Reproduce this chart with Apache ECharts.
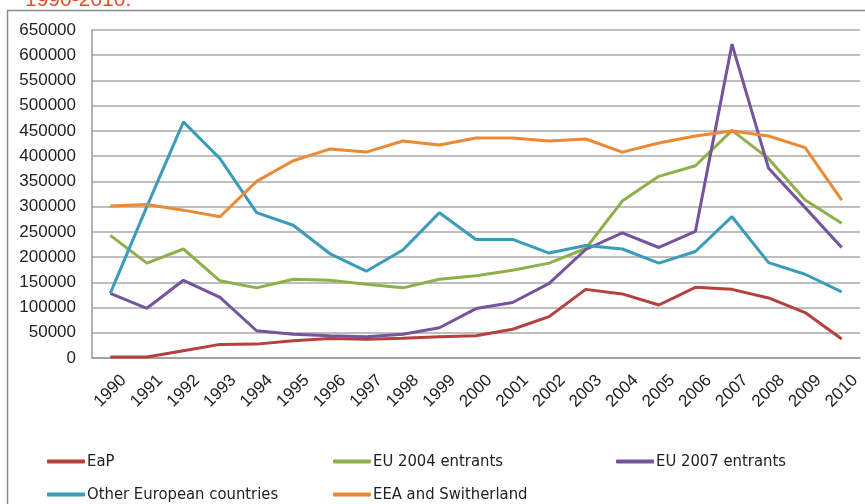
<!DOCTYPE html>
<html>
<head>
<meta charset="utf-8">
<script src="https://cdn.jsdelivr.net/npm/echarts@6/dist/echarts.min.js"></script>
<style>
html,body{margin:0;padding:0;background:#fff;}
#c{width:865px;height:504px;}
</style>
</head>
<body>
<div id="c"></div>
<script>
const years = ['1990','1991','1992','1993','1994','1995','1996','1997','1998','1999','2000','2001','2002','2003','2004','2005','2006','2007','2008','2009','2010'];
const eap = [2000,2000,14500,27000,27500,34000,38500,37000,39000,42000,44000,57000,82000,136000,127000,105000,140000,136000,119000,90000,37500];
const eu2004 = [243000,188000,216000,153000,139000,156000,154000,146000,139000,156000,163000,174000,188000,217000,311000,360000,381000,451000,395000,313000,267000];
const eu2007 = [128000,98500,154000,120000,54000,47000,44000,42000,47000,60000,98000,110000,148000,215000,248000,219000,251000,622000,376000,298000,219000];
const otherEU = [128000,300000,468000,395000,288000,263000,207000,172000,214000,288000,235000,235000,208000,223000,216000,188000,211000,280000,189000,166000,131000];
const eea = [301000,304000,293000,280000,350000,391000,414000,408000,430000,422000,436000,436000,430000,434000,408000,426000,440000,450000,440000,417000,313000];
const yTicks = [0,50000,100000,150000,200000,250000,300000,350000,400000,450000,500000,550000,600000,650000];
const titleText = '1990-2010.';

const names = ['EaP','EU 2004 entrants','EU 2007 entrants','Other European countries','EEA and Switherland'];
const colors = ['#b5403d','#8db04a','#76549b','#3a9cb8','#ea8a35'];
const datas = [eap, eu2004, eu2007, otherEU, eea];

const chart = echarts.init(document.getElementById('c'));
const font = "'Liberation Sans', Arial, sans-serif";
const narrow = "'Liberation Sans Narrow', 'DejaVu Sans Condensed', 'Liberation Sans', sans-serif";

const legendPos = [
  {left: 42, top: 448},
  {left: 328, top: 448},
  {left: 611, top: 448},
  {left: 42, top: 481},
  {left: 328, top: 481}
];

chart.setOption({
  animation: false,
  backgroundColor: '#fff',
  graphic: [
    {type:'rect', shape:{x:7.5,y:10.5,width:900,height:600}, style:{fill:'none', stroke:'#8a8a8a', lineWidth:1.5}, z:-1},
    {type:'text', left:25, top:-10, style:{text:titleText, fill:'#e0502a', font:"21px 'Liberation Sans', Arial, sans-serif"}}
  ],
  legend: names.map((n,i)=>({
    data:[n], left: legendPos[i].left, top: legendPos[i].top,
    itemWidth: 38, itemHeight: 4, itemGap: 2,
    icon: 'roundRect',
    textStyle:{fontFamily: narrow, fontSize:16.5, color:'#222', padding:[0,0,0,-3]}
  })),
  grid: {left: 92, right: 5, top: 30, bottom: 146, containLabel:false},
  xAxis: {
    type:'category', data: years, boundaryGap:true,
    axisLine:{lineStyle:{color:'#9a9a9a', width:1.5}},
    axisTick:{show:false},
    axisLabel:{rotate:45, fontFamily: font, fontSize:17, color:'#222', margin:33, interval:0, align:'center', verticalAlign:'middle'}
  },
  yAxis: {
    type:'value', min:yTicks[0], max:yTicks[yTicks.length-1], interval:yTicks[1]-yTicks[0],
    axisLine:{show:true, lineStyle:{color:'#9a9a9a', width:1.5}},
    axisTick:{show:false},
    splitLine:{lineStyle:{color:'#a8a8a8', width:1.5}},
    axisLabel:{fontFamily: font, fontSize:17, color:'#222', margin:16, formatter:(v)=>String(v)}
  },
  series: datas.map((d,i)=>({
    name: names[i], type:'line', data:d, symbol:'none',
    lineStyle:{color:colors[i], width:3}, itemStyle:{color:colors[i]}
  }))
});
</script>
</body>
</html>
